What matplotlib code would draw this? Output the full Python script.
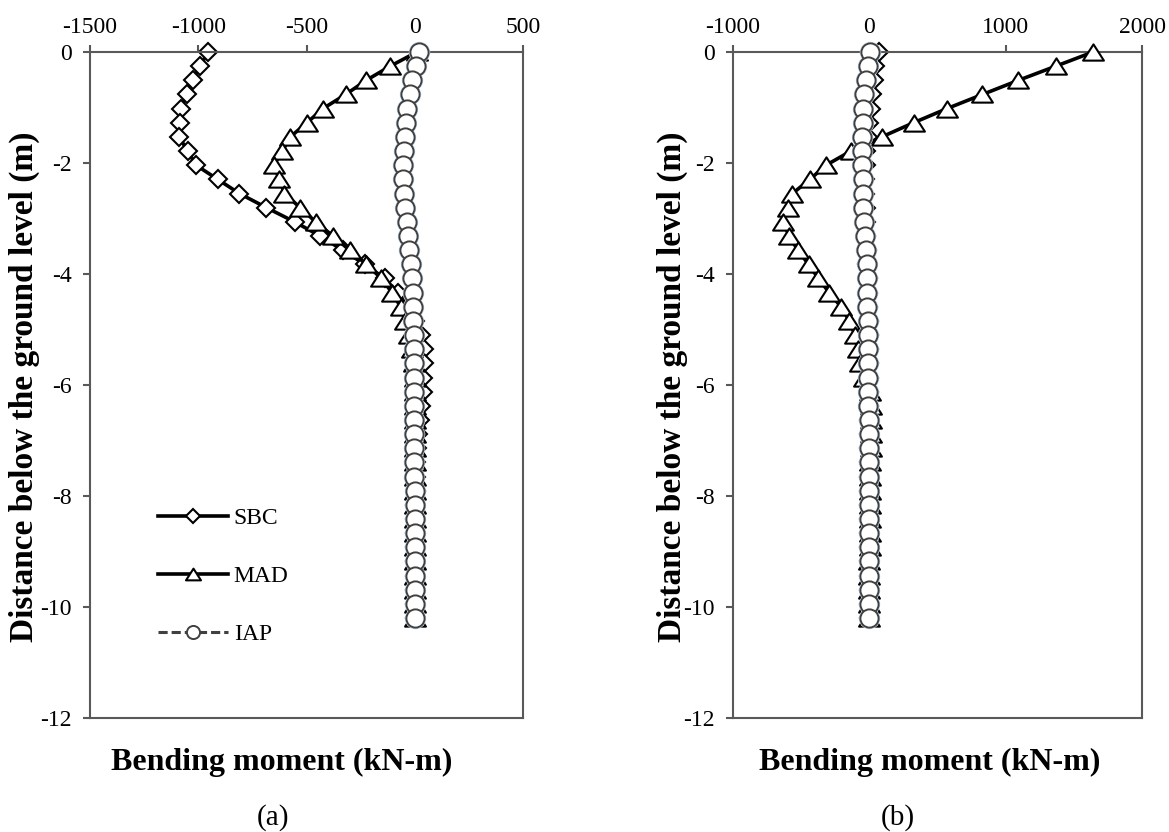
import matplotlib
matplotlib.use("Agg")
import matplotlib.pyplot as plt
from matplotlib.path import Path

plt.rcParams['font.family'] = ['Liberation Serif', 'DejaVu Serif']
plt.rcParams['axes.unicode_minus'] = False

# Depth below ground level (m), one reading every 0.255 m
depth = [0.0, -0.255, -0.51, -0.765, -1.02, -1.275, -1.53, -1.785, -2.04, -2.295,
         -2.55, -2.805, -3.06, -3.315, -3.57, -3.825, -4.08, -4.335, -4.59, -4.845,
         -5.1, -5.355, -5.61, -5.865, -6.12, -6.375, -6.63, -6.885, -7.14, -7.395,
         -7.65, -7.905, -8.16, -8.415, -8.67, -8.925, -9.18, -9.435, -9.69, -9.945, -10.2]

# (a) bending moment (kN-m)
sbc_a = [-954, -992, -1026, -1054, -1080, -1085, -1088, -1049, -1010, -910,
         -810, -685, -555, -437, -333, -231, -139, -79, -32, 0,
         30, 42, 42, 37, 37, 30, 22, 14, 11, 7,
         5, 4, 3, 2, 2, 1, 1, 0, 0, 0, 0]
mad_a = [10, -113, -224, -319, -424, -498, -575, -612, -651, -625,
         -602, -529, -458, -378, -301, -224, -154, -105, -65, -45,
         -25, -12, -5, 0, 2, 3, 3, 3, 3, 2,
         2, 2, 1, 1, 1, 0, 0, 0, 0, 0, 0]
iap_a = [20, 5, -11, -23, -36, -42, -46, -51, -54, -54,
         -51, -46, -37, -31, -25, -18, -12, -9, -7, -6,
         -5, -4, -4, -3, -3, -3, -2, -2, -2, -2,
         -2, -1, -1, -1, -1, -1, -1, -1, -1, -1, -1]

# (b) bending moment (kN-m)
sbc_b = [72, 40, 35, 23, 11, -1, -13, -25, -28, -30,
         -30, -28, -25, -22, -18, -15, -12, -10, -8, -6,
         -5, -4, -3, -2, -2, -1, -1, -1, 0, 0,
         0, 0, 0, 0, 0, 0, 0, 0, 0, 0, 0]
mad_b = [1641, 1368, 1094, 830, 569, 324, 91, -135, -318, -436,
         -564, -593, -632, -588, -524, -446, -373, -294, -208, -147,
         -105, -85, -70, -40, 5, 10, 10, 10, 10, 8,
         8, 6, 5, 4, 3, 2, 1, 0, -2, -4, -5]
iap_b = [5, -12, -24, -37, -44, -49, -54, -54, -54, -49,
         -49, -44, -37, -29, -24, -20, -18, -16, -14, -12,
         -11, -10, -9, -8, -7, -7, -6, -6, -6, -5,
         -5, -5, -5, -5, -5, -5, -5, -5, -5, -5, -5]

xticks_a = [-1500, -1000, -500, 0, 500]
xticks_b = [-1000, 0, 1000, 2000]
yticks = [0, -2, -4, -6, -8, -10, -12]

# wide, flat triangle marker
tri = Path([(-1, -0.78), (1, -0.78), (0, 0.78), (-1, -0.78)],
           [Path.MOVETO, Path.LINETO, Path.LINETO, Path.CLOSEPOLY])

W, H = 1169, 832
fig = plt.figure(figsize=(W / 100, H / 100), dpi=100)
ax_a = fig.add_axes([90 / W, 1 - 718 / H, 433 / W, 666 / H])
ax_b = fig.add_axes([733 / W, 1 - 718 / H, 409 / W, 666 / H])

axis_col = '#595959'


def draw_panel(ax, sbc, mad, iap, xticks):
    ax.plot(sbc, depth, color='black', lw=2.6, marker='D', ms=9.3, mfc='white',
            mec='black', mew=1.5, label='SBC', zorder=2, clip_on=False)
    ax.plot(mad, depth, color='black', lw=2.6, marker=tri, ms=15, mfc='white',
            mec='black', mew=1.5, label='MAD', zorder=3, clip_on=False)
    # faint blue rim round the circles
    ax.plot(iap, depth, ls='none', marker='o', ms=14.2, mfc='none', mec='#c3dbf0',
            mew=1.2, zorder=3.5, clip_on=False, label='_nolegend_')
    ax.plot(iap, depth, color='#404040', lw=2.2, ls=(0, (3, 1.3)), marker='o',
            ms=13.1, mfc='white', mec='#404040', mew=1.4, label='IAP', zorder=4,
            clip_on=False)

    ax.set_xlim(xticks[0], xticks[-1])
    ax.set_ylim(-12, 0)
    ax.set_xticks(xticks)
    ax.set_yticks(yticks)
    ax.xaxis.tick_top()
    for sp in ax.spines.values():
        sp.set_color(axis_col)
        sp.set_linewidth(1.5)
    ax.tick_params(axis='both', direction='out', length=5, width=1.5,
                   color=axis_col, labelsize=17)
    ax.tick_params(axis='x', pad=5)
    ax.tick_params(axis='y', pad=8)


draw_panel(ax_a, sbc_a, mad_a, iap_a, xticks_a)
draw_panel(ax_b, sbc_b, mad_b, iap_b, xticks_b)

ax_a.legend(loc='center left', bbox_to_anchor=(0.129, 0.213), frameon=False,
            fontsize=17, handlelength=2.97, handletextpad=0.25, labelspacing=1.54,
            borderpad=0, markerscale=0.72, numpoints=1)

ylabel = 'Distance below the ground level (m)'
xlabel = 'Bending moment (kN-m)'
fig.text(24 / W, 1 - 387 / H, ylabel, rotation=90, ha='center', va='center',
         fontsize=24, fontweight='bold')
fig.text(672 / W, 1 - 387 / H, ylabel, rotation=90, ha='center', va='center',
         fontsize=24, fontweight='bold')
fig.text(282 / W, 1 - 762 / H, xlabel, ha='center', va='center',
         fontsize=23, fontweight='bold')
fig.text(930 / W, 1 - 762 / H, xlabel, ha='center', va='center',
         fontsize=23, fontweight='bold')
fig.text(273 / W, 1 - 818 / H, '(a)', ha='center', va='center', fontsize=21)
fig.text(898 / W, 1 - 818 / H, '(b)', ha='center', va='center', fontsize=21)

fig.savefig('out.png', dpi=100)
